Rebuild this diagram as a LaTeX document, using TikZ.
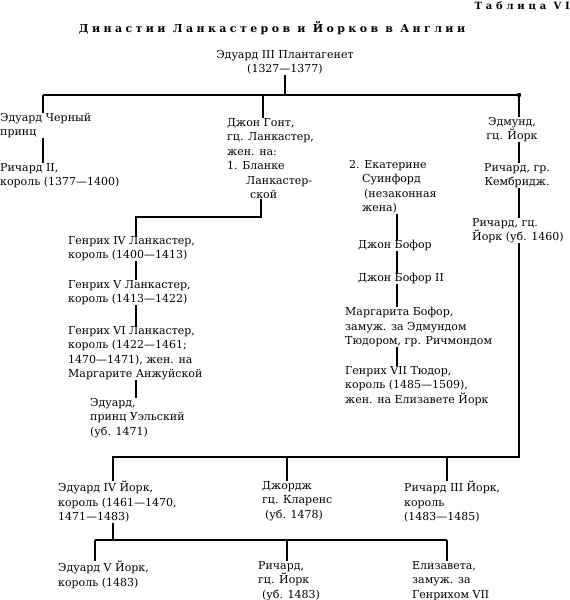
\documentclass[tikz,border=0pt]{standalone}
\usepackage{fontspec}
\setmainfont{DejaVu Serif}
\newfontfamily\titlefont[LetterSpace=31]{DejaVu Serif}
\newfontfamily\tablefont[LetterSpace=38]{DejaVu Serif}

\begin{document}
\begin{tikzpicture}[x=1pt, y=-1pt,
  every node/.style={font=\fontsize{11}{14.5}\selectfont, inner sep=0pt},
  person/.style={anchor=north west, align=left},
  personc/.style={anchor=north, align=center},
  link/.style={line width=1.6pt}]
\useasboundingbox (0,0) rectangle (570,600);

% Headings
\node[anchor=north east, font=\fontsize{10}{12}\selectfont\bfseries] (tab) at (570,2) {\tablefont Таблица VI};
\node[anchor=north, font=\fontsize{11}{13}\selectfont\bfseries] (title) at (272,21)
  {\titlefont Династии Ланкастеров и Йорков в Англии};

% Plantagenet and his sons
\node[personc] (ed3) at (285,50) {Эдуард III Плантагенет\\(1327—1377)};
\node[person] (edbp) at (0,113) {Эдуард Черный\\принц};
\node[person] (ric2) at (0,163) {Ричард II,\\король (1377—1400)};
\node[person] (john) at (227,118)
  {Джон Гонт,\\гц. Ланкастер,\\жен. на:\\1. Бланке\\\hspace*{19pt}Ланкастер-\\\hspace*{23pt}ской};
\node[personc] (edm) at (512,117) {Эдмунд,\\гц. Йорк};
\node[personc] (rcam) at (517,163) {Ричард, гр.\\Кембридж.};
\node[person] (ry) at (472,218) {Ричард, гц.\\Йорк (уб. 1460)};

% Lancaster line
\node[person] (h4) at (68,236) {Генрих IV Ланкастер,\\король (1400—1413)};
\node[person] (h5) at (68,280) {Генрих V Ланкастер,\\король (1413—1422)};
\node[person] (h6) at (68,326)
  {Генрих VI Ланкастер,\\король (1422—1461;\\1470—1471), жен. на\\Маргарите Анжуйской};
\node[person] (edw) at (90,398) {Эдуард,\\принц Уэльский\\(уб. 1471)};

% Beaufort line
\node[person] (kat) at (349,160)
  {2. Екатерине\\\hspace*{13pt}Суинфорд\\\hspace*{15pt}(незаконная\\\hspace*{13pt}жена)};
\node[person] (jb1) at (358,240) {Джон Бофор};
\node[person] (jb2) at (358,273) {Джон Бофор II};
\node[person] (marg) at (345,307)
  {Маргарита Бофор,\\замуж. за Эдмундом\\Тюдором, гр. Ричмондом};
\node[person] (h7) at (345,366)
  {Генрих VII Тюдор,\\король (1485—1509),\\жен. на Елизавете Йорк};

% York line
\node[person] (e4) at (58,481) {Эдуард IV Йорк,\\король (1461—1470,\\1471—1483)};
\node[person] (geo) at (262,481) {Джордж\\гц. Кларенс\\\hspace*{3pt}(уб. 1478)};
\node[person] (r3) at (404,481) {Ричард III Йорк,\\король\\(1483—1485)};
\node[person] (e5) at (58,561) {Эдуард V Йорк,\\король (1483)};
\node[person] (rich) at (258,561) {Ричард,\\гц. Йорк\\\hspace*{4pt}(уб. 1483)};
\node[person] (eliz) at (412,561) {Елизавета,\\замуж. за\\Генрихом VII};

% Bars
\coordinate (barL) at (43,95);
\coordinate (barR) at (519,95);
\coordinate (jtop) at (263,95);
\coordinate (jbend) at (261,217);
\coordinate (hbend) at (136,217);
\coordinate (mx) at (397,0);
\coordinate (ybarR) at (519,457);
\coordinate (ybarL) at (113,457);
\coordinate (ygeo) at (287,457);
\coordinate (yr3) at (447,457);
\coordinate (cbar) at (113,540);
\coordinate (cbarL) at (95,540);
\coordinate (cbarM) at (287,540);
\coordinate (cbarR) at (447,540);

% Lines
\draw[link] (ed3.south) -- (ed3.south |- barL);
\draw[link] (barL) -- (barR);
\fill (barR) circle (2.2pt);
\draw[link] (barL) -- (barL |- edbp.north);
\draw[link] (edbp.south -| barL) -- (ric2.north -| barL);
\draw[link] (jtop) -- (jtop |- john.north);
\draw[link] (john.south -| jbend) -- (jbend) -- (hbend) -- (hbend |- h4.north);
\draw[link] (h4.south -| hbend) -- (h5.north -| hbend);
\draw[link] (h5.south -| hbend) -- (h6.north -| hbend);
\draw[link] (h6.south -| hbend) -- (edw.north -| hbend);
\draw[link] (kat.south -| mx) -- (jb1.north -| mx);
\draw[link] (jb1.south -| mx) -- (jb2.north -| mx);
\draw[link] (jb2.south -| mx) -- (marg.north -| mx);
\draw[link] (marg.south -| mx) -- (h7.north -| mx);
\draw[link] (barR) -- (barR |- edm.north);
\draw[link] (edm.south -| barR) -- (rcam.north -| barR);
\draw[link] (rcam.south -| barR) -- (ry.north -| barR);
\draw[link] (ry.south -| ybarR) -- (ybarR) -- (ybarL) -- (ybarL |- e4.north);
\draw[link] (ygeo) -- (ygeo |- geo.north);
\draw[link] (yr3) -- (yr3 |- r3.north);
\draw[link] (e4.south -| cbar) -- (cbar);
\draw[link] (cbarL) -- (cbarR);
\draw[link] (cbarL) -- (cbarL |- e5.north);
\draw[link] (cbarM) -- (cbarM |- rich.north);
\draw[link] (cbarR) -- (cbarR |- eliz.north);
\end{tikzpicture}
\end{document}
